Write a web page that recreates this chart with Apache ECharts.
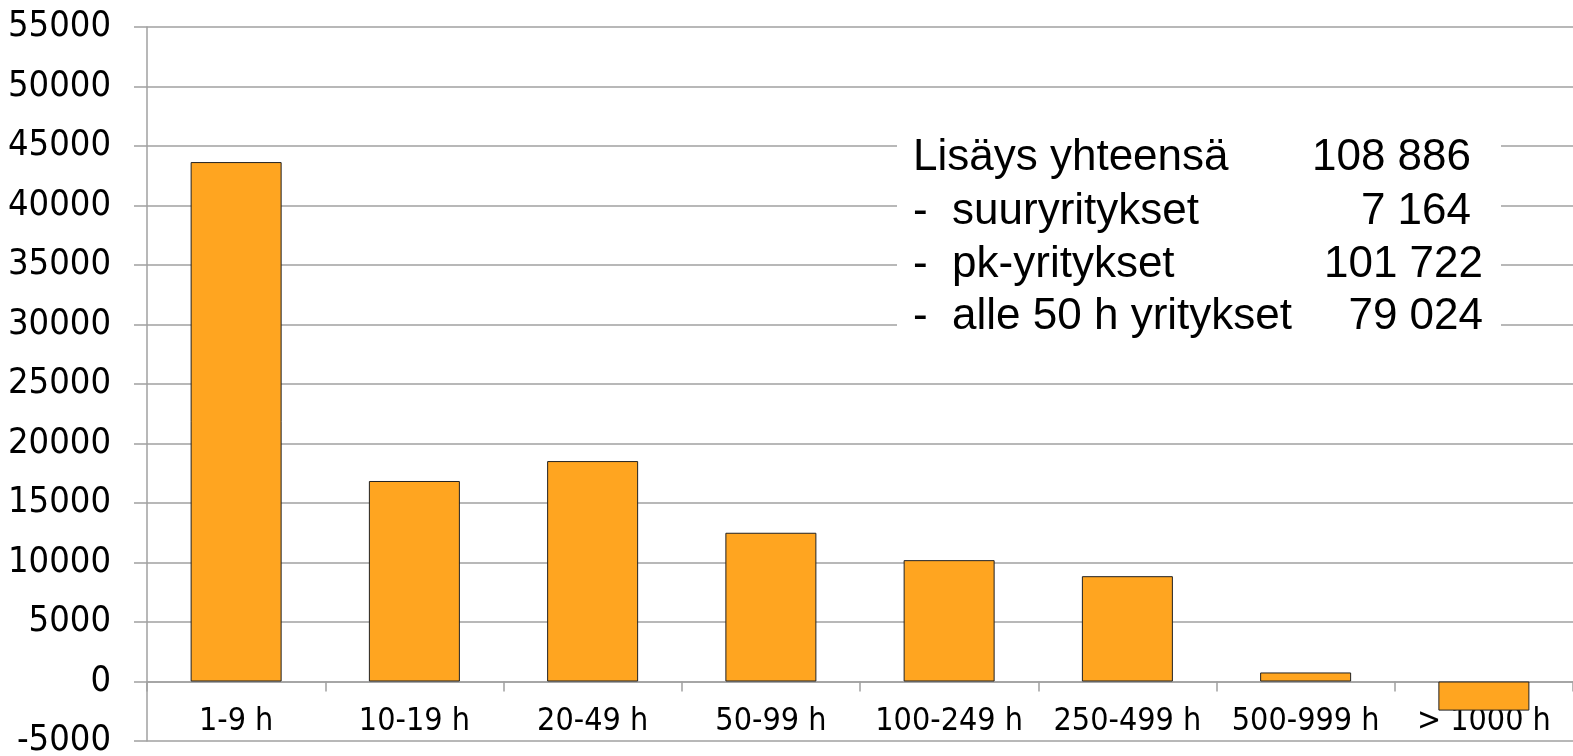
<!DOCTYPE html>
<html>
<head>
<meta charset="utf-8">
<script src="https://cdn.jsdelivr.net/npm/echarts@6/dist/echarts.min.js"></script>
<style>
  html, body { margin: 0; padding: 0; background: #fff; }
  #chart { width: 1573px; height: 756px; }
</style>
</head>
<body>
<div id="chart"></div>
<script>
const categories = ["1-9 h", "10-19 h", "20-49 h", "50-99 h", "100-249 h", "250-499 h", "500-999 h", "> 1000 h"];
const increase = [43650, 16850, 18524, 12500, 10198, 8850, 760, -2446];
const summaryLabels = ["Lisäys yhteensä", "-  suuryritykset", "-  pk-yritykset", "-  alle 50 h yritykset"];
const summaryValues = ["108 886", "7 164", "101 722", "79 024"];

const axisFont = "'DejaVu Sans Condensed', 'DejaVu Sans', sans-serif";
const boxFont = "'Liberation Sans', Arial, sans-serif";

const myChart = echarts.init(document.getElementById("chart"));

// summary box: white patch over the grid lines, then the texts
const rowY = [158, 212, 265, 317];
const valueRight = [1471, 1471, 1483, 1483];
const graphics = [
  {
    type: "rect",
    left: 897,
    top: 125,
    shape: { width: 604, height: 222 },
    style: { fill: "#fff" },
    z: 100
  }
];
summaryLabels.forEach(function(t, i) {
  graphics.push({
    type: "text",
    z: 101,
    x: 913,
    y: rowY[i],
    style: { text: t, font: "44px " + boxFont, fill: "#000", verticalAlign: "middle" }
  });
  graphics.push({
    type: "text",
    z: 101,
    x: valueRight[i],
    y: rowY[i],
    style: { text: summaryValues[i], font: "44px " + boxFont, fill: "#000", align: "right", verticalAlign: "middle" }
  });
});

const option = {
  animation: false,
  grid: { left: 147, right: 0, top: 27, bottom: 15, containLabel: false, outerBoundsMode: "none" },
  xAxis: {
    type: "category",
    data: categories,
    axisLine: { onZero: true, lineStyle: { color: "#a0a0a0", width: 1.5 } },
    axisTick: { show: true, length: 10, lineStyle: { color: "#a0a0a0", width: 1.5 } },
    // labels sit just under the zero line, above the -5000 grid line
    axisLabel: { interval: 0, color: "#000", fontSize: 32, fontFamily: axisFont, margin: -35 }
  },
  yAxis: {
    type: "value",
    min: -5000,
    max: 55000,
    interval: 5000,
    axisLine: { show: true, lineStyle: { color: "#a0a0a0", width: 1.5 } },
    axisTick: { show: true, length: 13, lineStyle: { color: "#a0a0a0", width: 1.5 } },
    axisLabel: {
      color: "#000",
      fontSize: 36,
      fontFamily: axisFont,
      margin: 36,
      formatter: function(v) { return String(v); }
    },
    splitLine: { lineStyle: { color: "#a0a0a0", width: 1.5 } }
  },
  series: [
    {
      type: "bar",
      data: increase,
      barWidth: 91,
      itemStyle: { color: "#FFA520", borderColor: "#222", borderWidth: 1 }
    }
  ],
  graphic: graphics
};

myChart.setOption(option);
</script>
</body>
</html>
